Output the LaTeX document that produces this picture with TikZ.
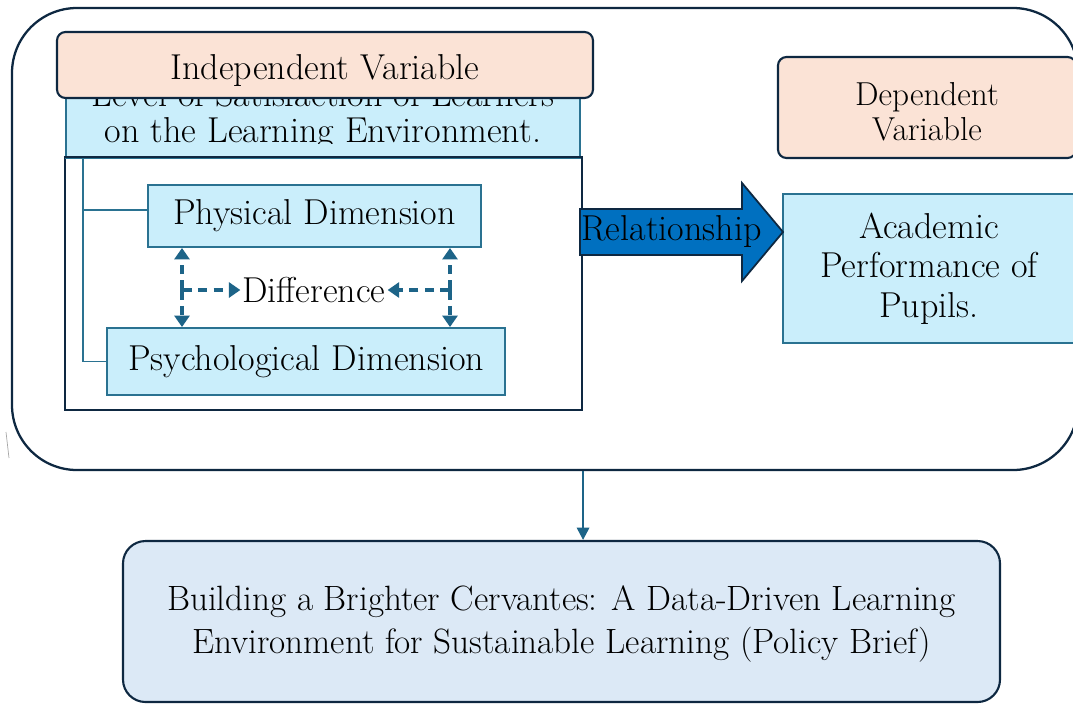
\documentclass[tikz,border=0pt]{standalone}
\usepackage{tikz}
\usetikzlibrary{arrows.meta}

\definecolor{navy}{HTML}{0E2841}
\definecolor{peach}{HTML}{FBE3D6}
\definecolor{skyfill}{HTML}{CAEEFB}
\definecolor{skyline}{HTML}{2A7291}
\definecolor{teal}{HTML}{1D6488}
\definecolor{relblue}{HTML}{0070C0}
\definecolor{brieffill}{HTML}{DCE9F6}

\begin{document}
\begin{tikzpicture}[
  txt/.style={font=\fontsize{20.5}{22.5}\selectfont, align=center},
  varbox/.style={draw=navy, line width=1.2pt, fill=peach, rounded corners=0.17cm, inner sep=0pt},
  dimbox/.style={draw=skyline, line width=1.1pt, fill=skyfill, inner sep=0pt},
  diff/.style={teal, line width=1.8pt, dash pattern=on 5.5pt off 3.5pt, -{Triangle[length=6.5pt,width=8.5pt]}},
  tree/.style={skyline, line width=1.1pt}
]
\clip (0,0) rectangle (21.46,-14.08);

\node[draw=navy, line width=1.3pt, rounded corners=1.3cm, minimum width=21.32cm, minimum height=9.24cm] (outer) at (10.9,-4.78) {};
\draw[gray!70, thin] (0.12,-8.64) -- (0.18,-9.16);

\node[draw=navy, line width=1.2pt, fill=white, minimum width=10.34cm, minimum height=5.04cm, inner sep=0pt] (frame) at (6.47,-5.68) {};
\node[dimbox, minimum width=10.28cm, minimum height=1.2cm] (header) at (6.46,-2.56) {};
\begin{scope}
\clip (1.32,-1.96) rectangle (11.6,-2.87);
\node[txt, font=\fontsize{20.5}{20.5}\selectfont] (headtext) at (6.46,-2.32) {Level of Satisfaction of Learners\\on the Learning Environment.};
\end{scope}
\draw[navy, line width=1.2pt] (frame.north west) -- (frame.north east);
\node[varbox, minimum width=10.72cm, minimum height=1.32cm] (indep) at (6.5,-1.3) {};
\node[txt] at (6.5,-1.42) {Independent Variable};

\node[dimbox, minimum width=6.66cm, minimum height=1.24cm, txt] (phys) at (6.29,-4.32) {Physical Dimension};
\node[dimbox, minimum width=7.96cm, minimum height=1.34cm, txt] (psych) at (6.12,-7.23) {Psychological Dimension};
\node[txt, inner sep=1pt] (diffnode) at (6.28,-5.8) {Difference};

\draw[tree] (1.66,-3.16) |- (psych.west);
\draw[tree] (1.66,-4.2) -- (phys.west |- 1.66,-4.2);

\coordinate (dl) at (3.64,-5.8);
\coordinate (dr) at (9.0,-5.8);
\draw[diff] (dl) -- (phys.south -| dl);
\draw[diff] (dl) -- (psych.north -| dl);
\draw[diff] (dl) -- (diffnode.west);
\draw[diff] (dr) -- (phys.south -| dr);
\draw[diff] (dr) -- (psych.north -| dr);
\draw[diff] (dr) -- (diffnode.east);

\node[varbox, minimum width=5.96cm, minimum height=2.02cm] (dep) at (18.54,-2.15) {};
\node[txt, font=\fontsize{18.9}{19.8}\selectfont] at (18.54,-2.23) {Dependent\\Variable};
\node[dimbox, minimum width=5.84cm, minimum height=2.98cm, txt] (acad) at (18.58,-5.37) {Academic\\Performance of\\Pupils.};

\filldraw[fill=relblue, draw=navy, line width=1pt] (11.6,-4.18) -- (14.84,-4.18) -- (14.84,-3.66) -- (15.66,-4.64) -- (14.84,-5.62) -- (14.84,-5.1) -- (11.6,-5.1) -- cycle;
\node[txt, anchor=west, inner sep=0pt] (rel) at (11.62,-4.64) {Relationship};

\node[draw=navy, line width=1.2pt, fill=brieffill, rounded corners=0.45cm, minimum width=17.54cm, minimum height=3.22cm] (brief) at (11.23,-12.43) {};
\node[txt, font=\fontsize{20}{24.3}\selectfont] at (11.23,-12.48) {Building a Brighter Cervantes: A Data-Driven Learning\\Environment for Sustainable Learning (Policy Brief)};

\draw[teal, line width=1.3pt, -{Triangle[length=7pt,width=7pt]}] (frame.east |- outer.south) -- (frame.east |- brief.north);
\end{tikzpicture}
\end{document}
